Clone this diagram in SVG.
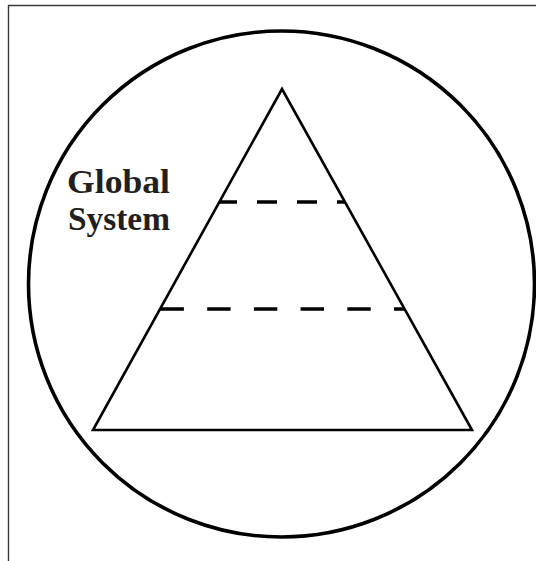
<svg xmlns="http://www.w3.org/2000/svg" width="536" height="561" viewBox="0 0 536 561">
<style>
.frame{fill:none;stroke:#3a3a3a;stroke-width:1.4}
.outline{fill:none;stroke:#000;stroke-linejoin:miter}
.dash{stroke:#000;stroke-width:3.4;fill:none}
.label{font-family:"Liberation Serif","Times New Roman",serif;font-weight:bold;font-size:34px;fill:#231f20}
</style>
<rect width="536" height="561" fill="#fff"/>
<g id="frame">
<path class="frame" d="M8.5,561 V5.5 H536"/>
</g>
<g id="global-system">
<circle class="outline" cx="281.5" cy="284" r="253" stroke-width="3.6"/>
<text class="label" x="67" y="193" textLength="103" lengthAdjust="spacingAndGlyphs">Global</text>
<text class="label" x="68" y="230" textLength="102" lengthAdjust="spacingAndGlyphs">System</text>
</g>
<g id="pyramid">
<polygon class="outline" points="282,89 472,430 93,430" stroke-width="2.6"/>
</g>
<g id="connectors">
<line class="dash" x1="219" y1="202" x2="345" y2="202" stroke-dasharray="20 20" stroke-dashoffset="2"/>
<line class="dash" x1="160.5" y1="309" x2="405" y2="309" stroke-dasharray="23.4 23.3"/>
</g>
</svg>
